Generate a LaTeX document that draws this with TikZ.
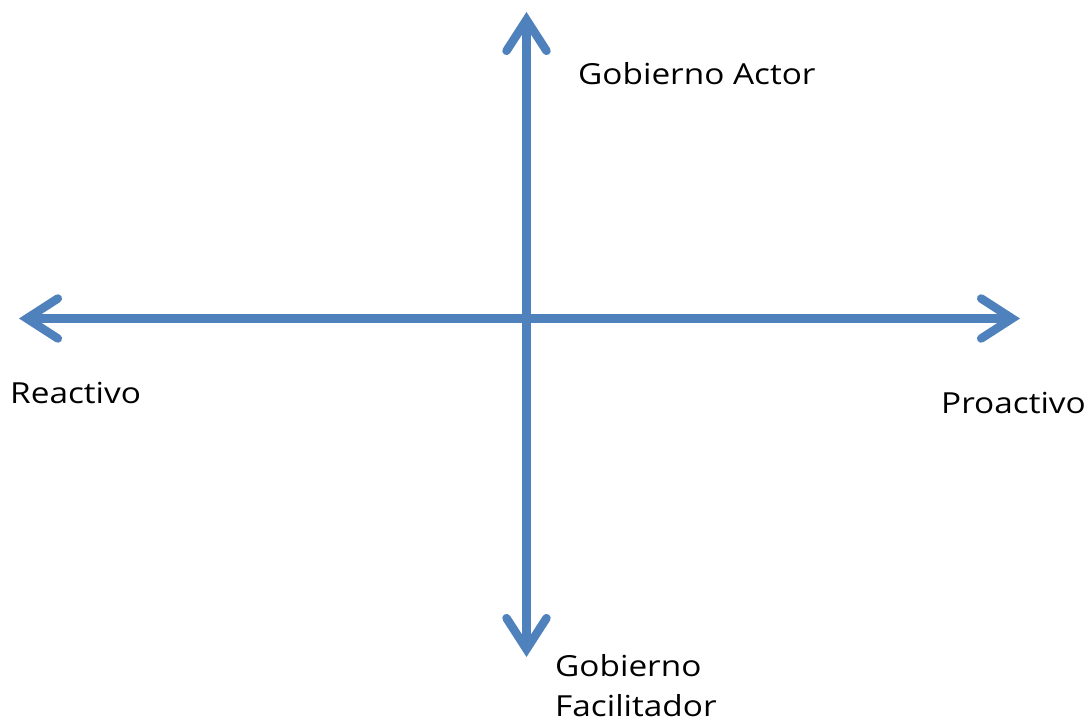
\documentclass[tikz,border=0pt]{standalone}
\usepackage{fontspec}
\setmainfont{Open Sans}
\newfontfamily\lblfont[FakeStretch=1.15]{Open Sans}
\usetikzlibrary{arrows.meta}
\definecolor{axisblue}{HTML}{4F81BD}
\begin{document}
\begin{tikzpicture}[x=1pt,y=1pt,
  axis/.style={draw=axisblue,line width=8.5pt,
    {Straight Barb[length=31pt,width=40pt,line cap=round,line join=miter]}-{Straight Barb[length=31pt,width=40pt,line cap=round,line join=miter]}},
  lbl/.style={anchor=base west,inner sep=0pt,font=\lblfont\fontsize{29}{40}\selectfont,text=black}]
\useasboundingbox (0,0) rectangle (1090,722);
\coordinate (top) at (526.5,710);
\coordinate (bot) at (526.5,65);
\coordinate (lft) at (19,403.5);
\coordinate (rgt) at (1020,403.5);
\draw[axis] (lft) -- (rgt);
\draw[axis] (bot) -- (top);
\node[lbl] (ga) at (578,637) {Gobierno Actor};
\node[lbl] (re) at (10,318) {Reactivo};
\node[lbl] (pr) at (941,308) {Proactivo};
\node[lbl] (gf) at (555,45) {Gobierno};
\node[lbl] (gf2) at (555,5) {Facilitador};
\end{tikzpicture}
\end{document}
